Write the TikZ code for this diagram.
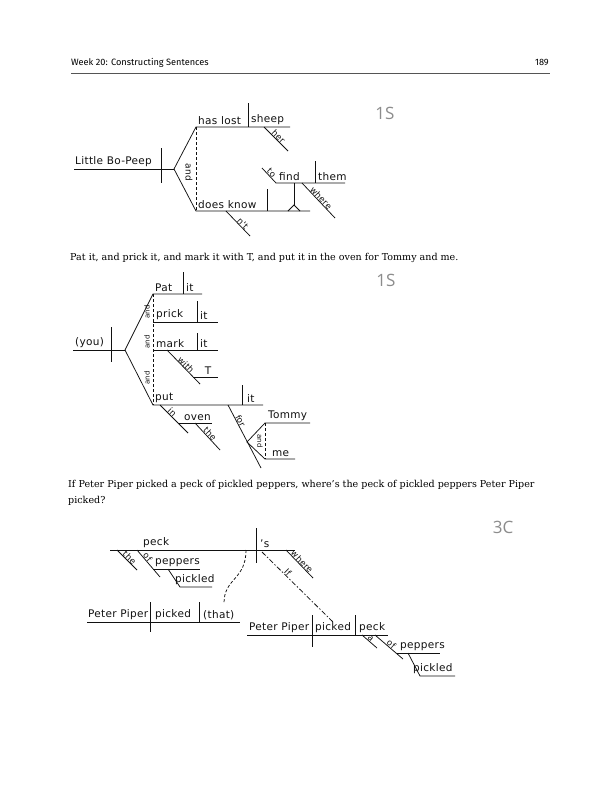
\documentclass[tikz,border=0pt]{standalone}
\usepackage{fontspec}
\setmainfont{DejaVu Serif}
\newfontfamily\hdfont{Fira Sans}
\newfontfamily\hwfont[LetterSpace=3]{DejaVu Sans}
\newfontfamily\tagfont{Open Sans}
\usetikzlibrary{calc,positioning}
\definecolor{inkx}{HTML}{111111}
\definecolor{tagx}{HTML}{8C8C8C}
\definecolor{rulex}{HTML}{555555}
\tikzset{
  dl/.style={line width=0.75pt,inkx},
  dsh/.style={dl,dash pattern=on 3pt off 2pt},
  dshdot/.style={dl,dash pattern=on 5pt off 2pt on 1.5pt off 2pt},
  wd/.style={font=\hwfont\fontsize{10.5}{12}\selectfont,inner sep=1pt,anchor=south west,inkx},
  sl/.style={font=\hwfont\fontsize{8.5}{10}\selectfont,inner sep=0pt,sloped,above,inkx},
  cj/.style={font=\hwfont\fontsize{7}{8}\selectfont,inner sep=0pt,inkx},
  snt/.style={font=\fontsize{9.55}{11}\selectfont,inner sep=0pt,anchor=base west},
  tag/.style={font=\tagfont\fontsize{17}{18}\selectfont,tagx}
}

\begin{document}
\begin{tikzpicture}[x=1pt,y=-1pt]
\fill[white] (0,0) rectangle (608,788);
\useasboundingbox (0,0) rectangle (608,788);
% page head
\node[anchor=base west,inner sep=0pt,font=\hdfont\fontsize{9.2}{10}\selectfont] (head) at (71,65) {Week 20: Constructing Sentences};
\node[anchor=base east,inner sep=0pt,font=\hdfont\fontsize{9.2}{10}\selectfont] (page) at (549,65) {189};
\draw[line width=0.6pt,rulex] (71,73) -- (550,73);

% Little Bo-Peep
\node[tag] (tag1) at (385,113) {1S};
\coordinate (f1) at (174,169);
\draw[dl] (74,169) -- (f1);
\draw[dl] (161,148) -- (161,183);
\draw[dl] (f1) -- (196,127) -- (290,127);
\draw[dl] (f1) -- (196,211) -- (310,211);
\draw[dsh] (196,127) -- (196,211);
\draw[dl] (248,103) -- (248,127);
\draw[dl] (267,189) -- (267,211);
\draw[dl] (264,127) -- node[sl] (her) {her} (288,151);
\draw[dl] (226,211) -- node[sl,pos=0.6] (nt) {n't} (250,236);
\draw[dl] (294,183) -- (294,205);
\draw[dl] (288,211) -- (294,205) -- (300,211);
\draw[dl] (262,168) -- node[sl] (to) {to} (276,183) -- (345,183);
\draw[dl] (315,161) -- (315,183);
\draw[dl] (302,183) -- node[sl] (where1) {where} (335,218);
\node[wd] (bopeep) at (74,168) {Little Bo-Peep};
\node[wd] (haslost) at (197,126) {has lost};
\node[wd] (sheep) at (250,126) {sheep};
\node[wd] (doesknow) at (197,210) {does know};
\node[wd] (find) at (278,182) {find};
\node[wd] (them) at (317,182) {them};
\node[cj,rotate=-90,font=\hwfont\fontsize{9}{10}\selectfont] (and1) at (189,172) {and};

% Pat it
\node[snt] (sent2) at (70,260) {Pat it, and prick it, and mark it with T, and put it in the oven for Tommy and me.};
\node[tag] (tag2) at (386,280) {1S};
\coordinate (f2) at (125,350);
\draw[dl] (73,350) -- (f2);
\draw[dl] (111,327) -- (111,362);
\draw[dl] (f2) -- (153,294) -- (202,294);
\draw[dl] (183,272) -- (183,294);
\draw[dl] (153,322) -- (218,322);
\draw[dl] (197,301) -- (197,322);
\draw[dl] (153,350) -- (218,350);
\draw[dl] (197,333) -- (197,350);
\draw[dl] (167,350) -- node[sl,pos=0.5] (with) {with} (200,384);
\draw[dl] (193,377) -- (218,377);
\draw[dl] (f2) -- (153,405) -- (263,405);
\draw[dsh] (153,294) -- (153,405);
\draw[dl] (242,385) -- (242,405);
\draw[dl] (160,405) -- node[sl,pos=0.35] (in) {in} (188,433);
\draw[dl] (178,423) -- (212,423);
\draw[dl] (195,423) -- node[sl] (the1) {the} (220,450);
\coordinate (f3) at (247,442);
\draw[dl] (228,405) -- node[sl,pos=0.28] (for) {for} (261,468);
\draw[dl] (310,423) -- (265,423) -- (f3) -- (265,459) -- (295,459);
\draw[dsh] (265,423) -- (265,459);
\node[wd] (you) at (74,349) {(you)};
\node[wd] (pat) at (154,293) {Pat};
\node[wd] (it1) at (185,293) {it};
\node[wd] (prick) at (155,321) {prick};
\node[wd] (it2) at (199,321) {it};
\node[wd] (mark) at (155,349) {mark};
\node[wd] (it3) at (199,349) {it};
\node[wd,anchor=south] (T) at (208,376) {T};
\node[wd] (put) at (154,404) {put};
\node[wd] (it4) at (246,404) {it};
\node[wd] (oven) at (183,422) {oven};
\node[wd] (tommy) at (267,422) {Tommy};
\node[wd] (me) at (271,458) {me};
\node[cj,rotate=90] (and2) at (147,312) {and};
\node[cj,rotate=90] (and3) at (147,342) {and};
\node[cj,rotate=90] (and4) at (147,378) {and};
\node[cj,rotate=-90] (and5) at (260,441) {and};

% Peter Piper
\node[snt] (sent3a) at (68,487) {If Peter Piper picked a peck of pickled peppers, where’s the peck of pickled peppers Peter Piper};
\node[snt] (sent3b) at (68,503) {picked?};
\node[tag] (tag3) at (503,527) {3C};
\draw[dl] (110,550) -- (295,550);
\draw[dl] (256,528) -- (256,563);
\draw[dl] (117,550) -- node[sl] (the2) {the} (137,570);
\draw[dl] (137,550) -- node[sl,pos=0.35] (of1) {of} (160,577);
\draw[dl] (153,569) -- (200,569);
\draw[dl] (168,569) -- (180,587) -- (212,587);
\draw[dsh] (246,550) .. controls (246,580) and (224,578) .. (224,603);
\draw[dl] (87,622) -- (240,622);
\draw[dl] (150,602) -- (150,632);
\draw[dl] (199,602) -- (199,622);
\draw[dl] (286,550) -- node[sl] (where2) {where} (313,578);
\draw[dshdot] (262,552) -- node[sl,pos=0.33] (if) {If} (333,622);
\draw[dl] (247,635) -- (388,635);
\draw[dl] (312,615) -- (312,647);
\draw[dl] (355,615) -- (355,635);
\draw[dl] (362,635) -- node[sl,pos=0.45] (a) {a} (377,648);
\draw[dl] (375,635) -- node[sl,pos=0.5] (of2) {of} (403,659);
\draw[dl] (397,653) -- (440,653);
\draw[dl] (408,653) -- (420,676) -- (455,676);
\node[wd] (peck1) at (142,549) {peck};
\node[wd] (peppers1) at (154,568) {peppers};
\node[wd] (pickled1) at (174,586) {pickled};
\node[wd] (pp1) at (87,621) {Peter Piper};
\node[wd] (picked1) at (154,621) {picked};
\node[wd] (that) at (202,621) {(that)};
\node[wd] (s) at (259,549) {’s};
\node[wd] (pp2) at (248,634) {Peter Piper};
\node[wd] (picked2) at (314,634) {picked};
\node[wd] (peck2) at (358,634) {peck};
\node[wd] (peppers2) at (399,652) {peppers};
\node[wd] (pickled2) at (412,675) {pickled};
\end{tikzpicture}
\end{document}
